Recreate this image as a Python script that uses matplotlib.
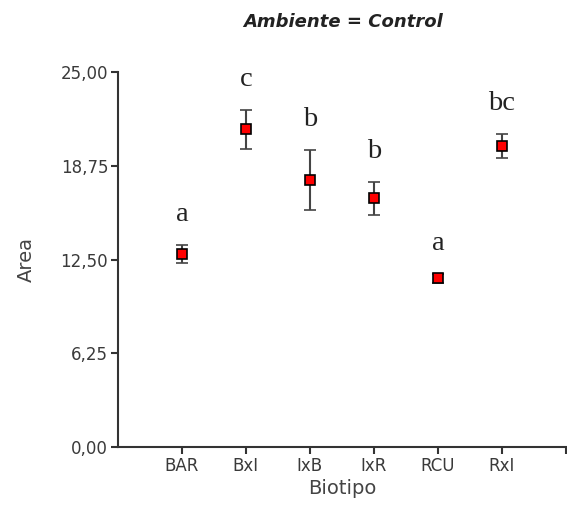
import numpy as np
import matplotlib
matplotlib.use("Agg")
import matplotlib.pyplot as plt
from matplotlib.ticker import FuncFormatter

# data
biotipos = ["BAR", "BxI", "IxB", "IxR", "RCU", "RxI"]
area_mean = [12.9, 21.2, 17.8, 16.6, 11.25, 20.05]
area_err = [0.6, 1.3, 2.0, 1.1, 0.3, 0.8]
letras = ["a", "c", "b", "b", "a", "bc"]
y_ticks = [0, 6.25, 12.5, 18.75, 25]

# the original text is wide and short, DejaVu Sans is closer than Arial
plt.rcParams["font.family"] = ["DejaVu Sans"]

fig = plt.figure(figsize=(5.67, 5.08), dpi=100)
ax = fig.add_axes([0.208, 0.12, 0.79, 0.738])

x = np.arange(1, len(biotipos) + 1)
ax.errorbar(
    x, area_mean, yerr=area_err,
    fmt="s", color="#444444", ecolor="#444444", elinewidth=1.5,
    capsize=4, capthick=1.5,
    markerfacecolor="red", markeredgecolor="black", markeredgewidth=1.2,
    markersize=7.5,
)

for xi, m, e, lab in zip(x, area_mean, area_err, letras):
    ax.annotate(
        lab, (xi, m + e), xytext=(0, 22), textcoords="offset points",
        ha="center", va="center", fontsize=20.5,
        family=["Liberation Serif", "DejaVu Serif"], color="#222222",
    )

ax.set_xlim(0, 7)
ax.set_ylim(0, 25)
ax.set_xticks(list(x) + [7])
ax.set_xticklabels(biotipos + [""])
ax.set_yticks(y_ticks)
ax.yaxis.set_major_formatter(FuncFormatter(lambda v, p: f"{v:.2f}".replace(".", ",")))

for s in ["top", "right"]:
    ax.spines[s].set_visible(False)
for s in ["left", "bottom"]:
    ax.spines[s].set_linewidth(1.5)
    ax.spines[s].set_color("#333333")
ax.tick_params(direction="out", length=5, width=1.5, color="#333333",
               labelsize=12, labelcolor="#3a3a3a", pad=2)

ax.set_xlabel("Biotipo", fontsize=14, color="#444444", labelpad=3)
ax.set_ylabel("Area", fontsize=14, color="#444444", labelpad=18)
fig.text(0.605, 0.957, "Ambiente = Control", ha="center", va="center",
         fontsize=13, fontweight="bold", fontstyle="italic", color="#222222")

fig.savefig("out.png", dpi=100)
